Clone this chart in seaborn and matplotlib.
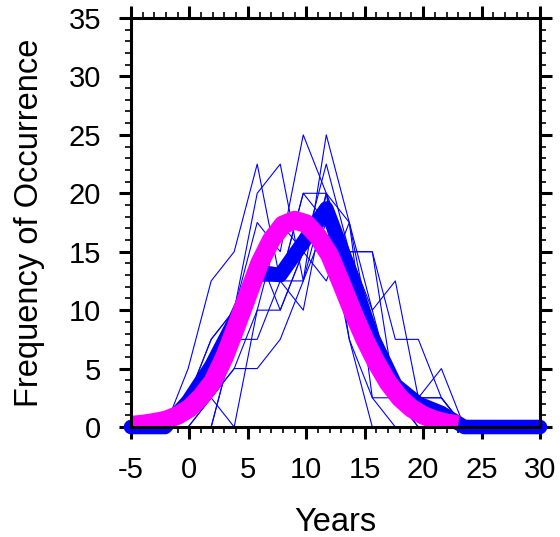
import numpy as np
import pandas as pd
import matplotlib
matplotlib.use("Agg")
import matplotlib.pyplot as plt
import seaborn as sns
from matplotlib.ticker import MultipleLocator

# ---------------- data ----------------
years = [-4.05, -2.08, -0.11, 1.86, 3.83, 5.80, 7.77, 9.74, 11.71,
         13.68, 15.65, 17.62, 19.59, 21.56, 23.53, 25.50, 27.47, 29.44]

member_01 = [0, 0, 2.5, 7.5, 10, 17.5, 15, 25, 20, 7.5, 2.5, 0, 0, 0, 0, 0, 0, 0]
member_02 = [0, 0, 2.5, 5, 7.5, 12.5, 12.5, 12.5, 25, 17.5, 10, 2.5, 0, 0, 0, 0, 0, 0]
member_03 = [0, 0, 0, 2.5, 5, 10, 10, 15, 22.5, 15, 15, 7.5, 7.5, 2.5, 0, 0, 0, 0]
member_04 = [0, 0, 5, 12.5, 15, 22.5, 12.5, 20, 17.5, 7.5, 0, 0, 0, 0, 0, 0, 0, 0]
member_05 = [0, 0, 2.5, 7.5, 10, 20, 22.5, 12.5, 20, 17.5, 7.5, 2.5, 2.5, 0, 0, 0, 0, 0]
member_06 = [0, 0, 2.5, 2.5, 5, 5, 7.5, 12.5, 17.5, 15, 10, 12.5, 2.5, 2.5, 0, 0, 0, 0]
member_07 = [0, 0, 0, 0, 7.5, 12.5, 12.5, 20, 20, 12.5, 5, 2.5, 2.5, 2.5, 0, 0, 0, 0]
member_08 = [0, 0, 2.5, 2.5, 0, 10, 17.5, 15, 12.5, 17.5, 2.5, 2.5, 0, 0, 0, 0, 0, 0]
member_09 = [0, 0, 0, 0, 7.5, 7.5, 12.5, 10, 20, 15, 15, 2.5, 2.5, 0, 0, 0, 0, 0]
member_10 = [0, 0, 0, 2.5, 7.5, 15, 10, 15, 17.5, 10, 7.5, 2.5, 2.5, 5, 0, 0, 0, 0]

members = [member_01, member_02, member_03, member_04, member_05,
           member_06, member_07, member_08, member_09, member_10]

mean_years = [-5.0, -4.05, -2.08, -0.11, 1.86, 3.83, 5.80, 7.77, 9.74, 11.71,
              13.68, 15.65, 17.62, 19.59, 21.56, 23.53, 25.50, 27.47, 29.44, 30.0]
mean_freq = [0, 0, 0, 2.2, 5.2, 9.0, 13.3, 13.0, 15.8, 18.7,
             13.5, 7.7, 3.6, 2.0, 1.2, 0, 0, 0, 0, 0]

fit_years = [-5, -4, -3, -2, -1, 0, 1, 2, 3, 4, 5, 6, 7, 8, 9, 10, 11, 12,
             13, 14, 15, 16, 17, 18, 19, 20, 21, 22, 23]
fit_freq = [0.15, 0.25, 0.4, 0.6, 1.0, 1.6, 2.6, 3.9, 6.0, 8.6, 11.3, 14.0,
            16.0, 17.3, 17.7, 17.4, 16.3, 14.7, 12.3, 9.8, 7.5, 5.5, 3.8, 2.5,
            1.6, 1.0, 0.6, 0.35, 0.2]

xticks = [-5, 0, 5, 10, 15, 20, 25, 30]
yticks = [0, 5, 10, 15, 20, 25, 30, 35]

# ---------------- tables ----------------
thin = pd.DataFrame({
    "Years": np.tile(years, len(members)),
    "Freq": np.concatenate([np.asarray(m, dtype=float) for m in members]),
    "member": np.repeat(np.arange(len(members)), len(years)),
})
mean_df = pd.DataFrame({"Years": mean_years, "Freq": mean_freq})
fit_df = pd.DataFrame({"Years": fit_years, "Freq": fit_freq})

# ---------------- style ----------------
sns.set_style("ticks")
plt.rcParams["font.family"] = ["Liberation Sans", "DejaVu Sans"]
plt.rcParams["text.color"] = "black"
plt.rcParams["axes.labelcolor"] = "black"

fig = plt.figure(figsize=(5.6, 5.37), dpi=100)
ax = fig.add_axes([131 / 560, 110 / 537, 409 / 560, 409 / 537])

sns.lineplot(data=thin, x="Years", y="Freq", units="member", estimator=None,
             color="#0000ff", lw=0.8, ax=ax, legend=False, zorder=2)
sns.lineplot(data=mean_df, x="Years", y="Freq", color="#0000ff", lw=10.5,
             ax=ax, legend=False, zorder=3, clip_on=False,
             solid_capstyle="round", solid_joinstyle="round")
sns.lineplot(data=fit_df, x="Years", y="Freq", color="#ff00ff", lw=13.5,
             ax=ax, legend=False, zorder=4,
             solid_capstyle="butt", solid_joinstyle="round")

ax.set_xlim(-5, 30)
ax.set_ylim(0, 35)
ax.set_xticks(xticks)
ax.set_xticklabels([str(t) for t in xticks])
ax.set_yticks(yticks)
ax.set_yticklabels([str(t) for t in yticks])
ax.xaxis.set_minor_locator(MultipleLocator(1))
ax.yaxis.set_minor_locator(MultipleLocator(1))

for s in ax.spines.values():
    s.set_visible(True)
    s.set_linewidth(2.2)
    s.set_color("black")
    s.set_zorder(10)

ax.tick_params(which="both", direction="out", top=True, right=True,
               colors="black", labelcolor="black", labelsize=21)
ax.tick_params(which="major", length=8.6, width=2.2)
ax.tick_params(axis="x", which="major", pad=12)
ax.tick_params(axis="y", which="major", pad=13)
ax.tick_params(which="minor", length=4.3, width=1.2)

ax.set_xlabel("Years", fontsize=23.5, labelpad=17, color="black")
ax.set_ylabel("Frequency of Occurrence", fontsize=23.5, labelpad=17, color="black")
ax.set_facecolor("white")
fig.patch.set_facecolor("white")

fig.savefig("out.png", dpi=100, facecolor="white")
